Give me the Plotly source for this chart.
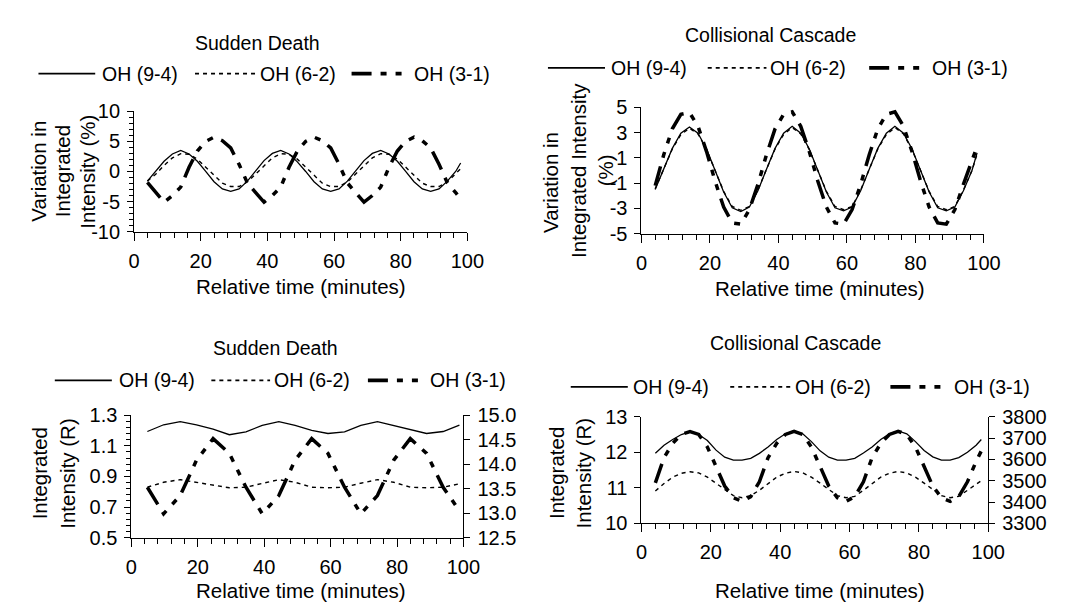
import plotly.graph_objects as go

# ------------------------------------------------------------------ data
series_names = ["OH (9-4)", "OH (6-2)", "OH (3-1)"]
panel_titles = ["Sudden Death", "Collisional Cascade", "Sudden Death", "Collisional Cascade"]
x_title = "Relative time (minutes)"
# y-axis titles, one list of lines per panel
y_title_lines = [["Variation in", "Integrated", "Intensity (%)"],
                 ["Variation in", "Integrated Intensity", "(%)"],
                 ["Integrated", "Intensity (R)"],
                 ["Integrated", "Intensity (R)"]]

# tick labels (hyphen minus as in the original)
p1_yticks = [-10, -5, 0, 5, 10]
p1_ylabels = ["-10", "-5", "0", "5", "10"]
p2_yticks = [-5, -3, -1, 1, 3, 5]
p2_ylabels = ["-5", "-3", "-1", "1", "3", "5"]

# time axis used for the variation plots and the collisional-cascade intensities
time_fine = [4.0, 6.5, 9.0, 11.5, 14.0, 16.5, 19.0, 21.5, 24.0, 26.5, 29.0, 31.5,
             34.0, 36.5, 39.0, 41.5, 44.0, 46.5, 49.0, 51.5, 54.0, 56.5, 59.0, 61.5,
             64.0, 66.5, 69.0, 71.5, 74.0, 76.5, 79.0, 81.5, 84.0, 86.5, 89.0, 91.5,
             94.0, 96.5, 98.0]

# Sudden Death - variation (%)
sd_var_94 = [-1.6, 0.0, 1.7, 2.9, 3.5, 2.9, 1.7, 0.0, -1.7, -2.9, -3.3, -2.9,
             -1.6, 0.1, 1.8, 3.0, 3.5, 2.9, 1.6, 0.0, -1.7, -2.9, -3.3, -2.9,
             -1.6, 0.1, 1.8, 3.0, 3.5, 2.9, 1.7, 0.0, -1.7, -2.9, -3.3, -2.9,
             -1.6, 0.0, 1.4]
sd_var_62 = [-1.6, -0.45, 1.0, 2.25, 2.95, 2.85, 2.05, 0.75, -0.7, -1.95, -2.5, -2.5,
             -1.75, -0.45, 1.0, 2.25, 2.95, 2.85, 2.05, 0.75, -0.7, -1.95, -2.5, -2.5,
             -1.75, -0.45, 1.0, 2.25, 2.95, 2.85, 2.05, 0.75, -0.7, -1.95, -2.5, -2.5,
             -1.75, -0.45, 0.45]
sd_var_31 = [-1.8, -3.4, -5.1, -4.0, -2.6, 0.7, 3.4, 5.0, 5.7, 5.1, 3.9, 1.2,
             -1.9, -3.5, -5.1, -4.0, -2.6, 0.7, 3.4, 5.0, 5.7, 5.1, 3.9, 1.2,
             -1.9, -3.5, -5.1, -4.0, -2.6, 0.7, 3.4, 5.0, 5.7, 5.1, 3.9, 1.2,
             -1.9, -3.5, -4.6]

# Collisional Cascade - variation (%)
cc_var_94 = [-1.5, 0.1, 1.75, 2.95, 3.45, 2.95, 1.7, 0.0, -1.7, -2.95, -3.25, -2.9,
             -1.6, 0.1, 1.75, 2.95, 3.5, 2.95, 1.7, 0.0, -1.7, -2.95, -3.2, -2.9,
             -1.6, 0.1, 1.75, 2.95, 3.5, 2.95, 1.7, 0.0, -1.7, -2.95, -3.2, -2.9,
             -1.6, 0.0, 1.4]
cc_var_62 = [-1.45, 0.1, 1.7, 2.85, 3.35, 2.9, 1.65, 0.0, -1.65, -2.85, -3.15, -2.85,
             -1.55, 0.1, 1.7, 2.85, 3.4, 2.9, 1.65, 0.0, -1.65, -2.85, -3.1, -2.85,
             -1.55, 0.1, 1.7, 2.85, 3.4, 2.9, 1.65, 0.0, -1.65, -2.85, -3.1, -2.85,
             -1.55, 0.0, 1.3]
cc_var_31 = [-1.2, 1.25, 3.3, 4.45, 4.6, 3.5, 1.5, -0.85, -2.9, -4.15, -4.25, -3.1,
             -1.1, 1.25, 3.3, 4.45, 4.65, 3.5, 1.5, -0.85, -2.9, -4.15, -4.25, -3.1,
             -1.1, 1.25, 3.3, 4.45, 4.65, 3.5, 1.5, -0.85, -2.9, -4.15, -4.25, -3.1,
             -1.1, 0.9, 1.9]

# Collisional Cascade - integrated intensity (R); OH(3-1) on right axis
cc_abs_94 = [11.97, 12.2, 12.36, 12.5, 12.58, 12.5, 12.33, 12.06, 11.86, 11.78, 11.78, 11.83,
             11.97, 12.15, 12.36, 12.52, 12.6, 12.52, 12.3, 12.04, 11.86, 11.78, 11.78, 11.83,
             11.98, 12.15, 12.36, 12.52, 12.6, 12.52, 12.3, 12.05, 11.87, 11.78, 11.78, 11.85,
             12.0, 12.2, 12.36]
cc_abs_62 = [10.91, 11.12, 11.3, 11.41, 11.45, 11.42, 11.3, 11.13, 10.95, 10.78, 10.72, 10.78,
             10.93, 11.12, 11.3, 11.41, 11.46, 11.42, 11.3, 11.13, 10.95, 10.78, 10.72, 10.76,
             10.93, 11.12, 11.3, 11.41, 11.46, 11.42, 11.3, 11.13, 10.95, 10.78, 10.72, 10.76,
             10.93, 11.1, 11.2]
cc_abs_31 = [3490, 3608, 3675, 3717, 3730, 3717, 3658, 3567, 3475, 3420, 3403, 3425,
             3495, 3608, 3675, 3717, 3732, 3717, 3658, 3567, 3475, 3420, 3403, 3425,
             3495, 3608, 3675, 3717, 3732, 3717, 3658, 3567, 3475, 3420, 3403, 3425,
             3495, 3590, 3640]

# Sudden Death - integrated intensity (R), 5-minute samples; OH(3-1) on right axis
time_5min = [4.8, 9.7, 14.7, 19.6, 24.6, 29.5, 34.5, 39.4, 44.4, 49.3,
             54.3, 59.2, 64.2, 69.1, 74.1, 79.0, 84.0, 88.9, 93.9, 98.8]
sd_abs_94 = [1.193, 1.237, 1.258, 1.237, 1.209, 1.172, 1.191, 1.233, 1.258, 1.233,
             1.201, 1.180, 1.191, 1.233, 1.258, 1.233, 1.209, 1.180, 1.193, 1.235]
sd_abs_62 = [0.830, 0.862, 0.879, 0.862, 0.841, 0.826, 0.830, 0.852, 0.879, 0.862,
             0.830, 0.826, 0.830, 0.856, 0.879, 0.862, 0.830, 0.826, 0.830, 0.852]
sd_abs_31 = [13.53, 12.99, 13.36, 14.08, 14.52, 14.22, 13.53, 12.99, 13.36, 14.08,
             14.52, 14.22, 13.53, 12.99, 13.36, 14.08, 14.52, 14.22, 13.53, 13.05]

# ------------------------------------------------------------------ layout helpers
W, H = 1068, 607
FONT = "Liberation Sans, Arial, Helvetica, sans-serif"
TICK_SIZE = 20
TEXT_SIZE = 19.5
AXTITLE_SIZE = 20.5


def fx(px):
    return px / W


def fy(py):
    return 1 - py / H


# plot-area boxes in pixels: (left, right, top, bottom)
boxes = [(122.7, 463.3, 95.7, 220.7),
         (641.3, 991.3, 91.7, 222.7),
         (120.0, 459.3, 411.0, 538.3),
         (641.3, 995.7, 412.7, 523.3)]

line_styles = [dict(color="black", width=1.3, dash="solid"),
               dict(color="black", width=1.4, dash="4px,4px"),
               dict(color="black", width=3.5, dash="20px,9px,6px,9px,6px,9px")]

fig = go.Figure()


def add(x, y, k, xa, ya):
    fig.add_trace(go.Scatter(x=x, y=y, mode="lines", name=series_names[k],
                             line=line_styles[k], xaxis=xa, yaxis=ya,
                             showlegend=False, hoverinfo="skip"))


# panel 1
add(time_fine, sd_var_94, 0, "x", "y")
add(time_fine, sd_var_62, 1, "x", "y")
add(time_fine, sd_var_31, 2, "x", "y")
# panel 2
add(time_fine, cc_var_94, 0, "x2", "y2")
add(time_fine, cc_var_62, 1, "x2", "y2")
add(time_fine, cc_var_31, 2, "x2", "y2")
# panel 3
add(time_5min, sd_abs_94, 0, "x3", "y3")
add(time_5min, sd_abs_62, 1, "x3", "y3")
add(time_5min, sd_abs_31, 2, "x3", "y4")
# panel 4
add(time_fine, cc_abs_94, 0, "x4", "y5")
add(time_fine, cc_abs_62, 1, "x4", "y5")
add(time_fine, cc_abs_31, 2, "x4", "y6")

tickfont = dict(size=TICK_SIZE, color="black", family=FONT)


def xaxis(i):
    l, r, t, b = boxes[i]
    return dict(domain=[fx(l), fx(r)], range=[0, 100], tickmode="linear", tick0=0, dtick=20,
                ticks="outside", ticklen=8, tickwidth=1, tickcolor="black",
                showline=True, linecolor="black", linewidth=1, showgrid=False, zeroline=False,
                tickfont=tickfont, ticklabelstandoff=3, fixedrange=True,
                minor=dict(tickmode="linear", tick0=0, dtick=4, ticks="outside", ticklen=5,
                           tickwidth=1, tickcolor="black", showgrid=False))


def yaxis(i, **kw):
    l, r, t, b = boxes[i]
    d = dict(domain=[fy(b), fy(t)], ticks="outside", ticklen=6, tickwidth=1, tickcolor="black",
             showline=True, linecolor="black", linewidth=1, showgrid=False, zeroline=False,
             tickfont=tickfont, ticklabelstandoff=3, fixedrange=True)
    d.update(kw)
    return d


def inner_ticks(i, overlay, rng, d0, dd):
    # inward half of the crossing tick marks on a right-hand axis
    l, r, t, b = boxes[i]
    return dict(domain=[fy(b), fy(t)], overlaying=overlay, side="right", range=rng,
                tickmode="linear", tick0=d0, dtick=dd, ticks="inside", ticklen=5,
                tickwidth=1, tickcolor="black", showticklabels=False, showline=False,
                showgrid=False, zeroline=False, fixedrange=True)


layout = dict(
    width=W, height=H, autosize=False,
    margin=dict(l=0, r=0, t=0, b=0, pad=0),
    paper_bgcolor="white", plot_bgcolor="white",
    font=dict(family=FONT, color="black", size=TEXT_SIZE),
    showlegend=False,
    xaxis=dict(xaxis(0), anchor="y"),
    yaxis=yaxis(0, anchor="x", range=[-10, 10], tickmode="array", tickvals=p1_yticks,
                ticktext=p1_ylabels,
                minor=dict(tickmode="linear", tick0=0, dtick=1, ticks="outside", ticklen=4,
                           tickwidth=1, tickcolor="black", showgrid=False)),
    xaxis2=dict(xaxis(1), anchor="y2"),
    yaxis2=yaxis(1, anchor="x2", range=[-5, 5], tickmode="array", tickvals=p2_yticks,
                 ticktext=p2_ylabels),
    xaxis3=dict(xaxis(2), anchor="y3"),
    yaxis3=yaxis(2, anchor="x3", range=[0.5, 1.3], tickmode="linear", tick0=0.5, dtick=0.2,
                 tickformat=".1f",
                 minor=dict(tickmode="linear", tick0=0.5, dtick=0.04, ticks="outside", ticklen=4,
                            tickwidth=1, tickcolor="black", showgrid=False)),
    yaxis4=yaxis(2, anchor="x3", overlaying="y3", side="right", range=[12.5, 15.0],
                 tickmode="linear", tick0=12.5, dtick=0.5, tickformat=".1f", ticklen=6),
    yaxis7=dict(inner_ticks(2, "y3", [12.5, 15.0], 12.5, 0.5), anchor="x3"),
    xaxis4=dict(xaxis(3), anchor="y5"),
    yaxis5=yaxis(3, anchor="x4", range=[10, 13], tickmode="linear", tick0=10, dtick=1),
    yaxis6=yaxis(3, anchor="x4", overlaying="y5", side="right", range=[3300, 3800],
                 tickmode="linear", tick0=3300, dtick=100),
    yaxis8=dict(inner_ticks(3, "y5", [3300, 3800], 3300, 100), anchor="x4"),
)
fig.update_layout(**layout)

# ------------------------------------------------------------------ text & legends
ann = []
shapes = []


def note(px, py, text, size, xanchor="center", angle=0):
    ann.append(dict(x=fx(px), y=fy(py), xref="paper", yref="paper", text=text,
                    showarrow=False, xanchor=xanchor, yanchor="middle", textangle=angle,
                    font=dict(size=size, color="black", family=FONT)))


title_pos = [(249, 25), (773, 17), (267, 341), (799, 336)]
for (px, py), txt in zip(title_pos, panel_titles):
    note(px, py, txt, TEXT_SIZE)

xtitle_pos = [(293, 278), (824, 280), (293, 593), (824, 593)]
for px, py in xtitle_pos:
    note(px, py, x_title, AXTITLE_SIZE)

# rotated y-title lines: per panel, (x centre, y centre) of each line
ytitle_line_pos = [[(25, 158), (49, 158), (75, 158)],
                   [(549, 170), (577, 157), (604, 157)],
                   [(27, 471), (55, 471)],
                   [(555, 471), (582, 471)]]
for lines, poss in zip(y_title_lines, ytitle_line_pos):
    for txt, (px, py) in zip(lines, poss):
        note(px, py, txt, AXTITLE_SIZE, angle=-90)

# legend rows: (y, [(line start, line end, text start) for each series])
legend_rows = [
    (56.7, [(25, 83, 88), (185, 247, 249), (345, 403, 407)]),
    (50.7, [(545.7, 604, 608), (709, 769, 771), (874, 931, 936)]),
    (375.0, [(41.7, 100, 105), (201.7, 261.7, 264), (361.7, 420, 423)]),
    (381.7, [(569, 627.3, 631), (732, 794, 796), (895.7, 954.7, 959)]),
]
for py, items in legend_rows:
    for k, (a, b, tx) in enumerate(items):
        st = line_styles[k]
        shapes.append(dict(type="line", xref="paper", yref="paper", x0=fx(a), x1=fx(b),
                           y0=fy(py), y1=fy(py),
                           line=dict(color=st["color"], width=st["width"] + 0.3, dash=st["dash"])))
        note(tx, py, series_names[k], TEXT_SIZE, xanchor="left")

fig.update_layout(annotations=ann, shapes=shapes)

fig.write_html("out.html")
